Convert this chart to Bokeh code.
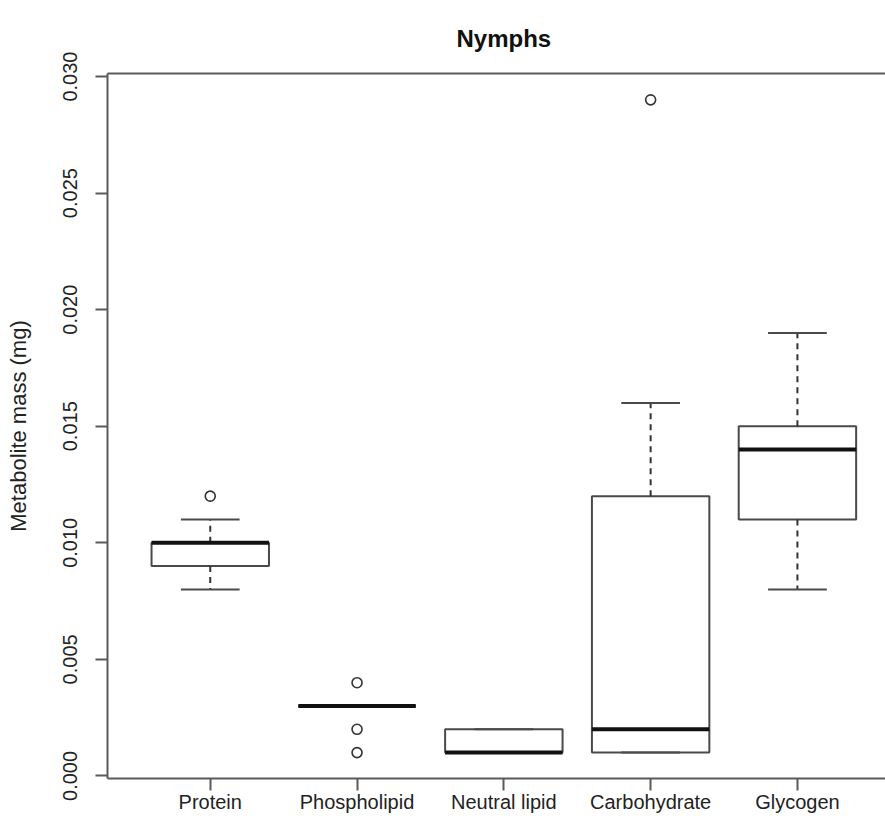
from bokeh.plotting import figure
from bokeh.models import Range1d, FixedTicker, LinearAxis
from bokeh.embed import file_html
from bokeh.resources import INLINE

# Metabolite masses per group (mg)
categories = ["Protein", "Phospholipid", "Neutral lipid", "Carbohydrate", "Glycogen"]
lower_whisker = [0.008, 0.003, 0.001, 0.001, 0.008]
q1 = [0.009, 0.003, 0.001, 0.001, 0.011]
median = [0.010, 0.003, 0.001, 0.002, 0.014]
q3 = [0.010, 0.003, 0.002, 0.012, 0.015]
upper_whisker = [0.011, 0.003, 0.002, 0.016, 0.019]

# Points beyond the whiskers
outlier_group = ["Protein", "Phospholipid", "Phospholipid", "Phospholipid", "Carbohydrate"]
outlier_value = [0.012, 0.004, 0.002, 0.001, 0.029]

y_ticks = [0.000, 0.005, 0.010, 0.015, 0.020, 0.025, 0.030]
y_tick_labels = ["0.000", "0.005", "0.010", "0.015", "0.020", "0.025", "0.030"]

FONT = "Liberation Sans"
FRAME = "#5a5a5a"

pos = list(range(1, len(categories) + 1))
pos_of = {c: i + 1 for i, c in enumerate(categories)}
half_box = 0.4
half_cap = 0.2

p = figure(width=885, height=828, output_backend="svg", toolbar_location=None,
           x_range=Range1d(0.3, 5.6), y_range=Range1d(-0.00011, 0.03013),
           min_border_left=107, min_border_top=72, min_border_bottom=50,
           min_border_right=0, x_axis_location=None, y_axis_location=None,
           title="Nymphs")
p.outline_line_color = None
p.xgrid.visible = False
p.ygrid.visible = False
p.background_fill_color = "white"
p.border_fill_color = "white"

# Title sits over the middle group, shifted from the frame's left edge
p.title.text_font = FONT
p.title.text_font_size = "24px"
p.title.text_font_style = "bold"
p.title.text_color = "#111111"
p.title.align = "left"
p.title.offset = 349
p.title.standoff = 44

# Boxes
p.quad(left=[x - half_box for x in pos], right=[x + half_box for x in pos],
       bottom=q1, top=q3, fill_color="white", line_color="#4a4a4a", line_width=2)

# Dashed whiskers
p.segment(x0=pos, x1=pos, y0=q3, y1=upper_whisker, line_color="#333333",
          line_width=2, line_dash="6 5")
p.segment(x0=pos, x1=pos, y0=q1, y1=lower_whisker, line_color="#333333",
          line_width=2, line_dash="6 5")

# Whisker caps
p.segment(x0=[x - half_cap for x in pos], x1=[x + half_cap for x in pos],
          y0=upper_whisker, y1=upper_whisker, line_color="#4a4a4a", line_width=2)
p.segment(x0=[x - half_cap for x in pos], x1=[x + half_cap for x in pos],
          y0=lower_whisker, y1=lower_whisker, line_color="#4a4a4a", line_width=2)

# Medians
p.segment(x0=[x - half_box for x in pos], x1=[x + half_box for x in pos],
          y0=median, y1=median, line_color="#111111", line_width=4)

# Outliers
p.scatter(x=[pos_of[g] for g in outlier_group], y=outlier_value, marker="circle",
          size=10, fill_color=None, line_color="#333333", line_width=1.6)

# Axes
yaxis = LinearAxis(ticker=FixedTicker(ticks=y_ticks),
                   major_label_overrides={t: s for t, s in zip(y_ticks, y_tick_labels)},
                   axis_label="Metabolite mass (mg)")
yaxis.major_label_orientation = "vertical"
xaxis = LinearAxis(ticker=FixedTicker(ticks=pos),
                   major_label_overrides={i: c for i, c in zip(pos, categories)})
for ax in (xaxis, yaxis):
    ax.axis_line_color = FRAME
    ax.axis_line_width = 2
    ax.major_tick_line_color = FRAME
    ax.major_tick_line_width = 2
    ax.major_tick_out = 12
    ax.major_tick_in = 0
    ax.minor_tick_line_color = None
    ax.major_label_text_font = FONT
    ax.major_label_text_font_size = "20px"
    ax.major_label_text_color = "#222222"
yaxis.major_label_standoff = 18
xaxis.major_label_standoff = 0
yaxis.axis_label_text_font = FONT
yaxis.axis_label_text_font_size = "22px"
yaxis.axis_label_text_font_style = "normal"
yaxis.axis_label_text_color = "#222222"
yaxis.axis_label_standoff = 30

top = LinearAxis(ticker=FixedTicker(ticks=[]), axis_line_color=FRAME, axis_line_width=2,
                 major_tick_line_color=None, minor_tick_line_color=None,
                 major_label_text_font_size="0px")

p.add_layout(yaxis, "left")
p.add_layout(xaxis, "below")
p.add_layout(top, "above")

open("out.html", "w").write(file_html(p, INLINE))
